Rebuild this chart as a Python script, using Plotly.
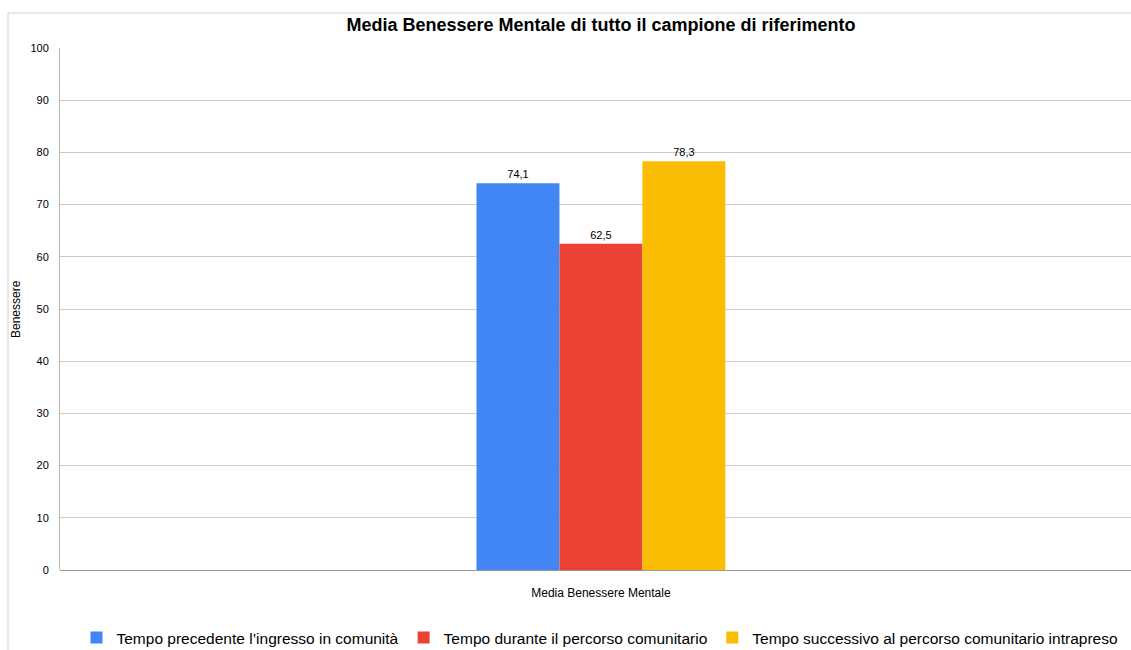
import plotly.graph_objects as go

categories = ["Media Benessere Mentale"]
series_names = [
    "Tempo precedente l’ingresso in comunità",
    "Tempo durante il percorso comunitario",
    "Tempo successivo al percorso comunitario intrapreso",
]
series_values = [[74.1], [62.5], [78.3]]
colors = ["#4285F4", "#EA4335", "#FBBC04"]

fig = go.Figure()
for name, vals, col in zip(series_names, series_values, colors):
    fig.add_trace(go.Bar(
        x=categories, y=vals, name=name, marker_color=col, marker_line_width=0,
        text=[f"{v:.1f}".replace(".", ",") for v in vals],
        textposition="outside", cliponaxis=False,
        textfont=dict(size=11, color="#000000", family="Liberation Sans, Arial, sans-serif"),
    ))

fig.update_layout(
    width=1131, height=650,
    margin=dict(l=60, r=0, t=48, b=80),
    paper_bgcolor="white", plot_bgcolor="white",
    font=dict(family="Liberation Sans, Arial, sans-serif", color="#000000", size=11),
    title=dict(text="<b>Media Benessere Mentale di tutto il campione di riferimento</b>",
               x=601/1131, xanchor="center", y=1-25/650, yanchor="middle",
               font=dict(size=18, color="#000000")),
    barmode="group", bargap=0.77, bargroupgap=0,
    showlegend=True,
    legend=dict(orientation="h", x=600/1131, xref="container", xanchor="center",
                yref="container", y=1-638/650, yanchor="middle",
                font=dict(size=15.5, color="#000000"), itemwidth=30, traceorder="normal"),
    xaxis=dict(range=[-0.5, 0.49], showgrid=False, showline=False, ticks="",
               tickfont=dict(size=12), zeroline=False, ticklabelstandoff=14),
    yaxis=dict(range=[0, 100], dtick=10, showgrid=True, gridcolor="#CCCCCC", gridwidth=1,
               showline=True, linecolor="#BBBBBB", linewidth=1, zeroline=True,
               zerolinecolor="#999999", zerolinewidth=1, ticks="", ticklabelstandoff=8,
               tickfont=dict(size=11)),
    annotations=[dict(text="Benessere", xref="paper", yref="paper",
                      x=-(60-16)/1071, y=0.5, textangle=-90, showarrow=False,
                      xanchor="center", yanchor="middle", font=dict(size=12))],
    shapes=[
        dict(type="line", xref="paper", yref="paper", x0=-(60-8)/1071, x1=1.0,
             y0=(570-13)/522, y1=(570-13)/522, line=dict(color="#D0D0D0", width=1)),
        dict(type="line", xref="paper", yref="paper", x0=-(60-8)/1071, x1=-(60-8)/1071,
             y0=(570-13)/522, y1=-0.2, line=dict(color="#D0D0D0", width=1)),
    ],
)

fig.write_html("out.html")
